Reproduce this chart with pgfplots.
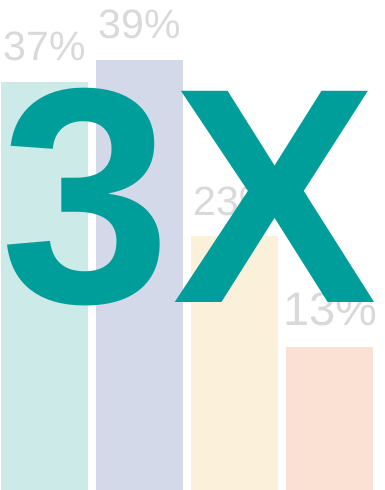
\documentclass[border=0pt]{standalone}
\usepackage{pgfplots}
\pgfplotsset{compat=1.18}
\usepackage{fontspec}
\setmainfont{Liberation Sans}
\definecolor{cteal}{HTML}{CCEBE8}
\definecolor{clav}{HTML}{D4D9E9}
\definecolor{cyel}{HTML}{FBF0DA}
\definecolor{cpeach}{HTML}{FBE1D3}
\definecolor{bigteal}{HTML}{009E9A}
\definecolor{lblgray}{HTML}{D9D9D9}
\begin{document}
\begin{tikzpicture}
\useasboundingbox (0,0) rectangle (385pt,490pt);
\begin{axis}[
  at={(0,0)}, anchor=south west,
  width=385pt, height=490pt, scale only axis,
  hide axis, clip=false,
  xmin=0, xmax=385, ymin=0, ymax=44.42,
  ybar, bar width=87, bar shift=0pt,
  nodes near coords={\pgfmathprintnumber{\pgfplotspointmeta}\%},
  /pgf/number format/assume math mode=true,
  every node near coord/.append style={anchor=base, yshift=21pt, inner sep=0pt,
    font=\fontsize{41pt}{41pt}\selectfont, text=lblgray},
]
\addplot[fill=cteal, draw=none] coordinates {(44.5,37)};
\addplot[fill=clav, draw=none] coordinates {(139.5,39)};
\addplot[fill=cyel, draw=none] coordinates {(234.5,23)};
\addplot[fill=cpeach, draw=none,
  every node near coord/.append style={font=\fontsize{47pt}{47pt}\selectfont, xshift=1pt}]
  coordinates {(329.5,13)};
\end{axis}
\node[anchor=base west, inner sep=0pt, text=bigteal,
  font=\fontsize{307pt}{307pt}\selectfont\bfseries] at (0pt,187pt) {3\kern2pt X};
\end{tikzpicture}
\end{document}
